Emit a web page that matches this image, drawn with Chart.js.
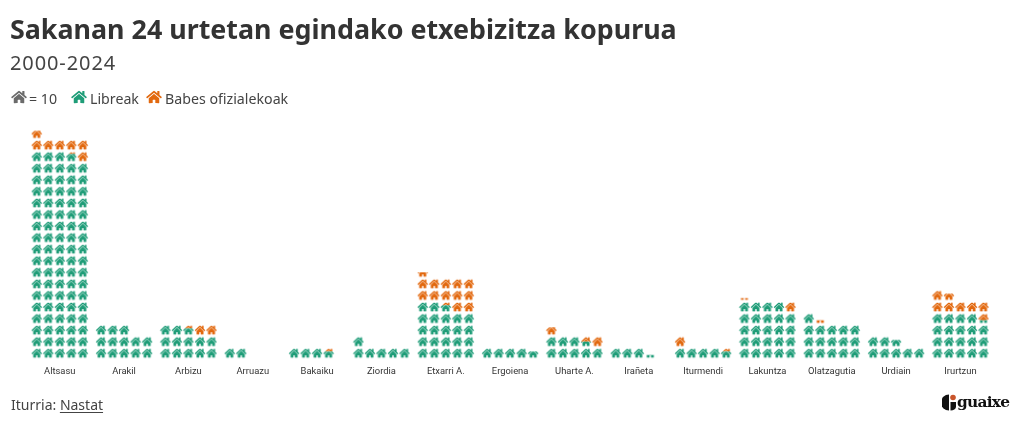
<!DOCTYPE html>
<html>
<head>
<meta charset="utf-8">
<script src="https://cdn.jsdelivr.net/npm/chart.js@4"></script>
<style>
    html, body { margin: 0; padding: 0; background: #fff; }
    body { width: 1020px; height: 425px; position: relative; overflow: hidden; font-family: 'Noto Sans', sans-serif; color: #333; }
    #chartBox { position: absolute; left: 0; top: 0; width: 1020px; height: 425px; }
    .txt { position: absolute; white-space: nowrap; }
    #title { left: 10px; top: 10px; font-size: 26.85px; line-height: 38px; font-weight: 700; }
    #subtitle { left: 10px; top: 49px; font-size: 20px; line-height: 28px; letter-spacing: 0.9px; color: #444; }
    .leg { top: 88.5px; font-size: 14.2px; line-height: 20px; color: #444; }
    .ico { position: absolute; top: 90px; width: 16px; height: 14px; }
    #source { left: 11px; top: 395px; font-size: 14px; line-height: 20px; color: #444; }
    #source u { text-underline-offset: 2px; }
    #logo { left: 942px; top: 394px; width: 70px; height: 18px; }
    #logo span { position: absolute; left: 15px; top: -2.5px; font: 900 15.4px/20px 'DejaVu Serif', serif; letter-spacing: -0.75px; color: #111; }
</style>
</head>
<body>
<div id="chartBox"><canvas id="homesChart" width="1020" height="425"></canvas></div>
<div class="txt" id="title">Sakanan 24 urtetan egindako etxebizitza kopurua</div>
<div class="txt" id="subtitle">2000-2024</div>
<svg class="ico" style="left:11px" viewBox="0 0 576 512"><path class="home" fill="#6b6b6b"/></svg>
<div class="txt leg" style="left:29px">= 10</div>
<svg class="ico" style="left:71px" viewBox="0 0 576 512"><path class="home" fill="#1f9d78"/></svg>
<div class="txt leg" style="left:90px">Libreak</div>
<svg class="ico" style="left:146px" viewBox="0 0 576 512"><path class="home" fill="#e2690f"/></svg>
<div class="txt leg" style="left:165px">Babes ofizialekoak</div>
<div class="txt" id="source">Iturria: <u>Nastat</u></div>
<div class="txt" id="logo">
    <svg width="15" height="17" viewBox="0 0 15 17" style="position:absolute;left:0;top:0">
        <path d="M7 0.5 A8 8 0 0 0 7 16.5 Z" fill="#111"/>
        <circle cx="11" cy="3.5" r="2.8" fill="#c9552b"/>
        <path d="M8.5 8 H14 V13 A6 4 0 0 1 8.5 16.5 Z" fill="#111"/>
    </svg>
    <span>guaixe</span>
</div>

<script>
const herriak = ['Altsasu', 'Arakil', 'Arbizu', 'Arruazu', 'Bakaiku', 'Ziordia', 'Etxarri A.', 'Ergoiena', 'Uharte A.', 'Irañeta', 'Iturmendi', 'Lakuntza', 'Olatzagutia', 'Urdiain', 'Irurtzun'];
const libreak = [888, 130, 127, 20, 37, 60, 227, 47, 85, 33, 47, 240, 160, 77, 193];
const babes = [70, 0, 23, 0, 3, 0, 128, 0, 23, 0, 13, 12, 3, 0, 74];

const etxeBat = 10;      // one icon = 10 homes
const ilaraBat = 5;      // icons per row
const zutabea = 0.179;   // icon spacing inside a group, in x axis units

const berdea = '#1f9d78';
const laranja = '#e2690f';
const homePath = 'M280.37 148.26L96 300.11V464a16 16 0 0 0 16 16l112.06-.29a16 16 0 0 0 15.92-16V368a16 16 0 0 1 16-16h64a16 16 0 0 1 16 16v95.64a16 16 0 0 0 16 16.05L464 480a16 16 0 0 0 16-16V300L295.67 148.26a12.19 12.19 0 0 0-15.3 0zM571.6 251.47L488 182.56V44.05a12 12 0 0 0-12-12h-56a12 12 0 0 0-12 12v72.61L318.47 43a48 48 0 0 0-61 0L4.34 251.47a12 12 0 0 0-1.6 16.9l25.5 31A12 12 0 0 0 45.15 301l235.22-193.74a12.19 12.19 0 0 1 15.3 0L530.9 301a12 12 0 0 0 16.9-1.6l25.5-31a12 12 0 0 0-1.7-16.93z';

document.querySelectorAll('.home').forEach(p => p.setAttribute('d', homePath));

// house sprite, only the band between from and to (0 = floor, 1 = roof) is painted
function etxea(color, from, to) {
    const w = 12, h = 12;
    const iconW = 10.2, iconH = 9;
    const c = document.createElement('canvas');
    c.width = w;
    c.height = h;
    const g = c.getContext('2d');
    const floorY = h / 2 + iconH / 2;
    g.beginPath();
    g.rect(0, floorY - to * iconH, w, (to - from) * iconH);
    g.clip();
    g.translate((w - iconW) / 2, h / 2 - iconH / 2);
    g.scale(iconW / 576, iconH / 448);
    g.translate(0, -32);
    g.fillStyle = color;
    g.strokeStyle = color;
    g.lineWidth = 12;
    const shape = new Path2D(homePath);
    g.fill(shape);
    g.stroke(shape);
    return c;
}

// every group is a stack of icons, the free homes first and the protected ones on top
function puntuak(hasi, kopuruak, color) {
    const points = [], styles = [];
    kopuruak.forEach((kop, i) => {
        const start = hasi[i], end = start + kop;
        for (let n = Math.floor(start / etxeBat); n * etxeBat < end; n++) {
            const from = Math.max(start - n * etxeBat, 0) / etxeBat;
            const to = Math.min(end - n * etxeBat, etxeBat) / etxeBat;
            points.push({ x: i + ((n % ilaraBat) - 2) * zutabea, y: Math.floor(n / ilaraBat) });
            styles.push(etxea(color, from, to));
        }
    });
    return { points, styles };
}

const libre = puntuak(libreak.map(() => 0), libreak, berdea);
const babestu = puntuak(libreak, babes, laranja);

const homesChart = new Chart(document.getElementById('homesChart'), {
    type: 'scatter',
    data: {
        datasets: [
            { label: 'Libreak', data: libre.points, pointStyle: libre.styles },
            { label: 'Babes ofizialekoak', data: babestu.points, pointStyle: babestu.styles }
        ]
    },
    options: {
        responsive: false,
        animation: false,
        layout: { padding: { left: 27.6, right: 27.4, top: 122, bottom: 36 } },
        plugins: { legend: { display: false }, tooltip: { enabled: false } },
        scales: {
            x: {
                type: 'linear',
                min: -0.5,
                max: 14.5,
                grid: { display: false, drawTicks: false },
                border: { display: false },
                afterFit: scale => { scale.height = 30; },
                afterBuildTicks: scale => { scale.ticks = herriak.map((h, i) => ({ value: i })); },
                ticks: {
                    autoSkip: false,
                    maxRotation: 0,
                    padding: 7,
                    color: '#333',
                    font: { family: 'Roboto', size: 9.4 },
                    callback: value => herriak[value]
                }
            },
            y: {
                display: false,
                min: -0.5,
                max: 20
            }
        }
    }
});
</script>
</body>
</html>
